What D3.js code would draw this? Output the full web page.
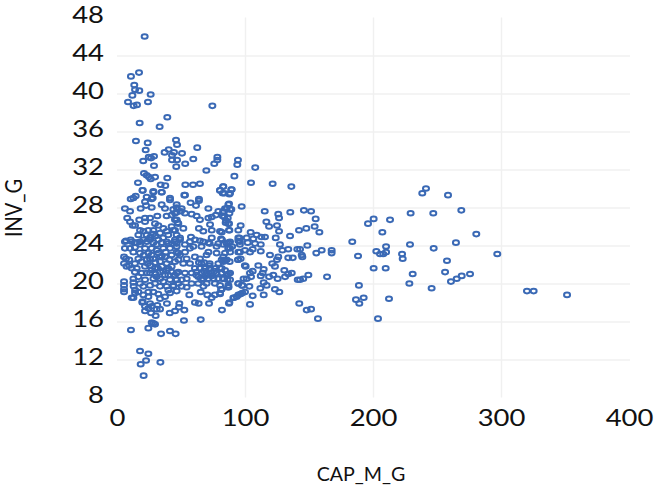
<!DOCTYPE html>
<html><head><meta charset="utf-8">
<style>html,body{margin:0;padding:0;background:#fff}svg{display:block}</style>
<script src="https://cdn.jsdelivr.net/npm/d3@7"></script></head>
<body><svg id="c" width="656" height="487"></svg>
<script>
const xTicks=[0,100,200,300,400];
const yTicks=[8,12,16,20,24,28,32,36,40,44,48];
const xTitle="CAP_M_G", yTitle="INV_G";
// [CAP_M_G, INV_G] pairs
const upperPoints=[[21.6,46],[17.2,42.2],[10.9,41.8],[13.5,40.9],[14.1,40.4],[17.4,40.3],[12,39.8],[26.3,39.9],[8.6,39.1],[24.2,39.1],[13,38.7],[15.6,38.8],[74.5,38.7],[39.3,37.5],[33.3,36.5],[17.7,36.9],[14.8,35],[24,34.8],[46.1,35.1],[46.9,34.6],[62.7,34.3],[22.4,34.05],[40.4,34.1],[37.2,33.8],[44.5,33.8],[50.8,33.7],[43,33.5],[28.9,33.4],[24.8,33.3],[26.6,33.2],[20.5,32.9],[43,33],[46.9,33],[59.6,33.1],[78.4,33.3],[78.4,33],[76,32.6],[53.3,32.6],[46.3,32.3],[28.9,32.4],[69.8,31.9],[21.1,31.6],[23.2,31.4],[25,31.2],[26.3,31],[29.7,31.2],[39.3,31.1],[16.4,30.6],[34.1,30.4],[37.7,30.3],[53.4,30.4],[59.4,30.4],[64.8,30.5],[20,29.8],[28.4,29.6],[34.9,29.6],[52.6,29.3],[80.5,29.8],[91.7,31.3],[104.7,30.6],[121.6,30.5],[136.2,30.2],[83,30.2],[89.3,29.9],[82.6,29.5],[87.8,29.4],[94,32.5],[94.5,33],[108,32.2]];
const midPoints=[[97.4,28.1],[115.4,27.6],[87.5,28.4],[85.7,27.9],[89.3,27.8],[83,27.6],[87.8,27.4],[82.6,27.1],[85.2,26.6],[87,26.3],[96.6,26.1],[94.8,25.6],[87.8,25.6],[81.8,25.4],[126,27.3],[126.6,26.9],[135.4,27.5],[146,27.7],[151.6,27.6],[155.2,26.8],[116.7,26.5],[118.8,26],[125,26.1],[126.6,25.5],[142.2,25.6],[147.9,25.8],[154.4,26],[158.1,25.4],[104.4,25.4],[109.1,25.1],[112.8,24.9],[115.6,24.9],[135.2,25],[124,24.8],[95.6,24.8],[101.3,24.8],[106.5,24.7],[94.8,24.5],[102.1,24.3],[107.8,24.2],[112.3,24.1],[127.3,24.1],[96,24.1],[90,23.9],[85.7,24.2],[82,24.6],[148.7,24],[140.9,23.6],[143,23.6],[133.8,23.6],[129.2,23.5],[159.9,23.5],[155.7,23.2],[167.7,23.5],[167.7,23.2],[94.5,22.5],[119.5,23],[126,22.8],[125,22.5],[133.8,22.7],[137.3,22.7],[144.8,22.8],[144.3,23],[81.8,22.5],[85.7,22.5],[84.4,22.4],[83,22.8],[88.3,23.3],[88.3,23.7],[96,23.3],[100,23.5],[103.9,23.3],[112.3,23.4],[106,23.6],[136.5,21.1],[133.8,21],[131.3,20.7],[130.7,21.4],[125.5,20.5],[122.1,20.9],[118.8,20.7],[112.3,20.8],[113.8,21.1],[114.6,21.5],[110.4,21.9],[123.4,21.8],[121.3,22.1],[100.5,21.8],[106,21.3],[103.9,21.1],[104.7,20.7],[101.3,20.5],[87,21],[83,20.5],[81.8,21.6],[86.2,20.4],[164.1,20.7],[149.5,20.9],[145.5,20.5],[143,20.4],[141.2,20.4],[157,16.3],[151.6,17.3],[148.2,17.2],[142.4,17.9],[103.9,17.8],[82,17.2],[87.5,17.9],[106,18.7],[114.6,18.8],[126.8,19.1],[123.4,19.4],[112,19.5],[90.9,18.5],[93.5,18.6],[96.6,18.9],[100,19.1],[80.5,18.9],[81.8,19.4],[87,19.6],[94.8,20],[97.7,19.8],[103.4,19.7],[114.6,20.1],[116.9,19.8]];
const tailPoints=[[183.8,24.4],[188.3,22.9],[202.6,23.4],[210.2,23.9],[205.5,23.1],[208,23.1],[210.2,23.3],[222.7,23.1],[223.2,22.6],[228.9,24.1],[200.5,26.8],[196.1,26.3],[213.3,26.7],[207.3,25.4],[229.4,27.4],[241.4,30],[238.5,29.5],[258.6,29.3],[247.1,27.4],[269,27.7],[280.7,25.2],[264.8,24.3],[247.4,23.7],[297.1,23.1],[257.8,22.4],[256.3,21.2],[275.8,21],[269.3,20.8],[265.4,20.5],[260.9,20.2],[245.8,19.5],[320.3,19.2],[325.5,19.2],[351.6,18.8],[200.5,21.6],[209.9,21.6],[231,21],[228.4,20],[189,19.8],[192.7,18.5],[186.7,18.3],[189.3,17.9],[212.5,18.4],[203.9,16.3]];
const lowPoints=[[10.9,15.1],[18,12.9],[24.5,12.6],[22.7,11.9],[18.5,11.5],[33.9,11.7],[20.8,10.3],[34.4,14.7],[41.4,15],[45.8,14.7],[24.5,15.3],[27.1,15.9],[29.7,15.7],[28.4,15.8],[52.3,16.1],[65.4,16.2],[30.2,16.6],[41.2,16.9],[45.3,17.1],[52.6,17.2],[48.4,17.5],[21.9,17.1],[26.6,16.9],[33.6,17.3],[31,17.3],[24.5,17.4],[21.9,17.6],[27.1,17.6],[31.5,17.7],[25.8,17.9],[20,18.1],[39,17.9],[48.7,17.9],[60.9,18],[63.8,17.9],[71.9,17.9],[5.5,20.2],[5.5,19.8],[5.5,19.4],[5.5,19.1],[11.5,18.5],[14.1,19],[12.8,18.5],[19.8,18],[13,19.7],[14.1,19.3],[16.7,19.1],[20.6,18.8],[24.5,18.6],[28.4,19.1],[24.5,19.1],[32.3,18.9],[33.6,18.4],[37.5,18.6],[41.4,19],[46.6,19.2],[40.1,19.3],[44,19.7],[54.4,19.6],[56.5,18.8],[65.4,19.1],[67.5,19.7],[70.6,18.8],[73.9,18.5],[76.5,18.8],[80.5,19],[81.3,19.4],[87,19.6],[87.8,18],[91.4,18.5],[94.8,18.8],[97.9,19]];
const densePointsA=[[53.1,29.3],[57.5,28.5],[64,28.7],[61.7,28.2],[71.4,27.9],[80.5,29.8],[83,30.2],[88.3,29.5],[89.6,29.9],[83.8,29.5],[87,28.3],[88.3,27.8],[84.4,27.9],[79.2,27.6],[83,27.5],[77.3,27.2],[71.4,26.9],[74,27],[72.7,26.2],[83.8,27],[86.5,26.9],[84.9,26.4],[87.5,26.3],[64.8,26.7],[62.2,27.1],[58.3,27.3],[53.1,27.4],[50.5,27.9],[46.6,28],[50,27.6],[46.6,27.5],[45.3,26.7],[47.4,26.4],[51.8,25.8],[45.3,25.6],[64,25.8],[67.4,25.5],[74,25.6],[80.5,25.5],[87.5,25.6],[57.8,24.9],[60.9,24.6],[64.8,24.5],[74,24.8],[71.4,24.3],[81.3,24.7],[79.2,24.2],[87,24.3],[94.8,24.8],[96,24.4],[46.6,25.1],[49.2,24.6],[46.6,24.2],[20,29.8],[28.4,29.7],[34.9,29.6],[14.6,29.2],[10.7,28.9],[23.2,29.1],[27.1,28.9],[41.4,28.8],[21.9,28.6],[34.9,28.3],[27.1,28],[22.7,28.2],[18.5,27.9],[37.5,27.9],[46.6,28.3],[44,27.8],[6.2,27.9],[10.2,27.6],[45.3,27.4],[42.7,27.2],[38.8,27.1],[31.5,27.1],[25.8,26.9],[21.9,26.9],[17.4,26.7],[8,26.9],[10.2,26.5],[12.3,26.1],[14.1,26.1],[21.9,26.5],[29.7,26.3],[32.3,26.1],[46.6,26.7],[47.9,26.3],[18,25.6],[20.6,25.5],[24.5,25.6],[28.4,25.2],[36.2,25.8],[42.7,26],[33.6,25.3],[38.8,25.5],[44,25.6],[16.7,25.1],[23.2,25.1],[28.4,25.6],[7,24.5],[10.7,24.6],[14.1,24.3],[18,24.4],[25.8,24.6],[32.3,24.6],[38.8,24.4],[45.3,24.6],[49.2,24.8],[20.6,24.6],[12.8,29],[27.9,29],[41.4,29],[64,28.9]];
const densePointsB=[[6.2,24.4],[5.5,22.8],[7,22.6],[9.6,22.5],[5.5,22.1],[7.5,21.8],[9.6,21.9],[14,22.1],[11.5,21.6],[14,21.2],[12.8,20.5],[12.8,20.1],[16.7,20.7],[19.3,21.1],[21.9,20.4],[17.9,20],[20.6,19.7],[25.8,19.8],[29.7,20],[36.2,20.2],[40.1,20.9],[45.3,20.9],[47.9,21.2],[37.5,20.9],[31,20.7],[33.6,21.2],[25.8,21.1],[29.7,21.6],[21.9,21.8],[25.8,21.9],[19.3,22.3],[23.2,22.5],[16.7,22.6],[28.4,22.6],[33.6,22.3],[38.8,22.1],[42.7,21.8],[45.3,22.3],[37.5,22.8],[42.7,23],[47.9,23.2],[32.3,23.2],[24.5,23.2],[18,23.2],[12.8,23.3],[10.2,23.7],[6.2,23.7],[14,23.8],[18,24.1],[21.9,23.7],[27.1,23.7],[31,24.1],[36.2,23.7],[41.4,23.7],[46.6,23.9],[11.5,24.4],[15.4,24.3],[23.2,24.4],[28.4,24.3],[34.9,24.3],[40.1,24.2],[45.3,24.4],[28.4,20.5],[33.6,20.5],[41.4,20.4],[46.6,20.4],[33.6,19.7],[38.8,19.7],[44,19.8],[47.9,20],[23.2,21.1],[15.4,21.6],[38.8,21.4],[25.8,22.6],[33.6,22.8]];
const densePointsC=[[46.6,23.3],[49.2,23],[53.1,23.3],[57,23.7],[59.6,23.9],[53.1,24.1],[57,24.4],[66,23.9],[67.4,24.4],[72.4,24.2],[77.8,23.9],[83,24.1],[88.3,24.4],[86.9,23.7],[94.8,23.3],[84.4,23.2],[77.8,23.2],[71.4,23.3],[70,23],[64.8,22.6],[60.9,22.8],[54.4,22.6],[57,22.1],[51.8,22.1],[47.9,22.5],[72.4,22.1],[66,22.1],[96.6,22.6],[99.9,21.9],[79.2,22.1],[88,22.3],[83,22.3],[76.5,21.6],[80.5,21.6],[84.4,21.4],[88.3,21.1],[60.9,21.6],[64.8,21.6],[68.8,21.6],[72.7,21.6],[58.3,21.1],[62.2,21.2],[66,21.1],[70,21.1],[73.9,21.1],[77.8,21.1],[81.8,21.1],[85.7,20.9],[63.5,20.7],[67.4,20.5],[71.4,20.5],[75.3,20.5],[79.2,20.5],[83,20.5],[53.1,21.1],[54.4,20.5],[50.5,20.4],[46.6,21.1],[46.6,20.4],[58.3,20],[63.5,20],[70,20],[76.5,20],[80.5,19.8],[87,19.8],[94.8,20],[97.9,19.8],[98.9,20.5],[88.3,20.4],[94.8,22.5],[50.5,19.7]];
const densePointsD=[[31,23.5],[35,22.9],[38,23.3],[41,22.5],[30,22.2],[27,23],[35,21.8],[40,21.6],[32,21.6],[27,21.4],[43,21.2],[36,21.3],[30,21],[24,22.1],[21,23],[43,24.2],[36,24.8],[30,25],[26,24.9],[40,25.1],[68,21.3],[71,20.9],[74,20.8],[69,20.8],[66,20.4],[76,21.3],[62,20.9],[72,21.9],[68,22.2],[64,22.2]];

const ringColor="#3a69b5", gridColor="#f0f0f0", inkColor="#111";
const svg=d3.select("#c");
const x=d3.scaleLinear().domain([0,400]).range([117,629]);
const y=d3.scaleLinear().domain([8,48]).range([397.5,17.5]);
const bodyFont="Lato, 'Open Sans', sans-serif";

const stretch=(sel,k)=>sel.each(function(){d3.select(this).attr("textLength",this.getComputedTextLength()*k).attr("lengthAdjust","spacingAndGlyphs");});

const xG=svg.append("g").attr("transform","translate(0,397.5)")
 .call(d3.axisBottom(x).tickValues(xTicks).tickSize(-380).tickPadding(0));
const yG=svg.append("g").attr("transform","translate(117,0)")
 .call(d3.axisLeft(y).tickValues(yTicks).tickSize(-513).tickPadding(0));
for(const g of [xG,yG]){g.select(".domain").remove();g.selectAll("line").attr("stroke",gridColor).attr("stroke-width",1.4);
 g.selectAll("text").attr("fill",inkColor).attr("font-family",bodyFont).attr("font-size",22.5);}
xG.selectAll(".tick").filter(d=>d===0||d===400).select("line").remove();
yG.selectAll(".tick").filter(d=>d===8||d===48).select("line").remove();
xG.selectAll("text").attr("dy",null).attr("y",28);
yG.selectAll("text").attr("x",-13).attr("dy",null).attr("y",5).attr("text-anchor","end");
xG.selectAll("text").call(stretch,1.22);
yG.selectAll("text").call(stretch,1.22);

const points=[...upperPoints,...midPoints,...tailPoints,...lowPoints,...densePointsA,...densePointsB,...densePointsC,...densePointsD];
svg.append("g").selectAll("ellipse").data(points).join("ellipse")
 .attr("cx",d=>x(d[0])).attr("cy",d=>y(d[1])).attr("rx",3).attr("ry",2.3)
 .attr("fill","none").attr("stroke",ringColor).attr("stroke-width",2);

svg.append("text").attr("x",361).attr("y",481).attr("text-anchor","middle")
 .attr("font-family",bodyFont).attr("font-size",20).attr("fill",inkColor).text(xTitle).call(stretch,0.98);
svg.append("text").attr("transform","translate(22,208) rotate(-90)").attr("text-anchor","middle")
 .attr("font-family",bodyFont).attr("font-size",23).attr("fill",inkColor).text(yTitle).call(stretch,0.87);
</script></body></html>
